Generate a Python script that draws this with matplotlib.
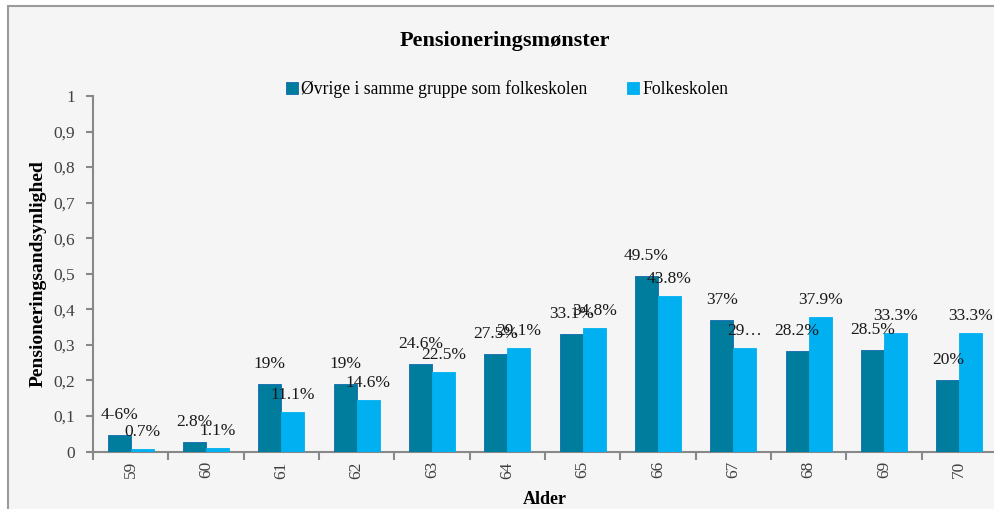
import matplotlib
matplotlib.use("Agg")
import matplotlib.pyplot as plt
import numpy as np
from matplotlib.patches import Rectangle

plt.rcParams['font.family'] = ['Liberation Serif', 'DejaVu Serif']

ages = ['59', '60', '61', '62', '63', '64', '65', '66', '67', '68', '69', '70']
ovrige = [0.046, 0.028, 0.19, 0.19, 0.246, 0.275, 0.331, 0.495, 0.37, 0.282, 0.285, 0.20]
folkeskolen = [0.007, 0.011, 0.111, 0.146, 0.225, 0.291, 0.348, 0.438, 0.29, 0.379, 0.333, 0.333]
ovrige_labels = ['4-6%', '2.8%', '19%', '19%', '24.6%', '27.5%', '33.1%', '49.5%', '37%', '28.2%', '28.5%', '20%']
folke_labels = ['0.7%', '1.1%', '11.1%', '14.6%', '22.5%', '29.1%', '34.8%', '43.8%', '29…', '37.9%', '33.3%', '33.3%']
yticks = [0, 0.1, 0.2, 0.3, 0.4, 0.5, 0.6, 0.7, 0.8, 0.9, 1]

dark = '#007C9C'
light = '#00B0F0'
grey = '#888888'

fig = plt.figure(figsize=(9.94, 5.09), dpi=100, facecolor='white')
# chart area frame
fig.patches.append(Rectangle((8/994, -0.1), 1.1, 1 - 6/509 + 0.1, transform=fig.transFigure,
                             facecolor='#f5f5f5', edgecolor='#9a9a9a', linewidth=1.5, zorder=-10))

ax = fig.add_axes([93/994, 1 - 451.5/509, (997 - 93)/994, (451.5 - 96)/509])
ax.set_facecolor('none')
ax.set_zorder(2)

x = np.arange(len(ages))
w = 0.305
b1 = ax.bar(x - w/2, ovrige, w, color=dark, edgecolor='#1267b0', linewidth=0.6,
            label='Øvrige i samme gruppe som folkeskolen', zorder=3)
b2 = ax.bar(x + w/2, folkeskolen, w, color=light, edgecolor=light, linewidth=0.6,
            label='Folkeskolen', zorder=3)

# dark labels sit a little higher than light ones, as in the source chart
for i in range(len(ages)):
    ax.annotate(ovrige_labels[i], (x[i] - w/2, ovrige[i]), xytext=(0, 12), textcoords='offset pixels',
                ha='center', va='bottom', fontsize=12.5, color='#1a1a1a', zorder=4)
    ax.annotate(folke_labels[i], (x[i] + w/2, folkeskolen[i]), xytext=(0, 9), textcoords='offset pixels',
                ha='center', va='bottom', fontsize=12.5, color='#1a1a1a', zorder=4)

ax.set_xlim(-0.5, len(ages) - 0.5)
ax.set_ylim(0, 1)
ax.set_yticks(yticks)
ax.set_yticklabels([('%g' % v).replace('.', ',') for v in yticks], fontsize=12.5, color='#404040')
ax.set_xticks(x)
ax.set_xticklabels(ages, rotation=90, fontsize=12.5, color='#404040')
ax.set_xticks(np.arange(len(ages) + 1) - 0.5, minor=True)
ax.tick_params(axis='x', which='major', length=0, pad=7)
ax.tick_params(axis='x', which='minor', length=6, width=1.5, color=grey, direction='out')
ax.tick_params(axis='y', length=5, width=1.5, color=grey, direction='out', pad=8)

for s in ['top', 'right']:
    ax.spines[s].set_visible(False)
for s in ['left', 'bottom']:
    ax.spines[s].set_color(grey)
    ax.spines[s].set_linewidth(1.5)

ax.set_ylabel('Pensioneringsandsynlighed', fontsize=14, fontweight='bold', labelpad=5)
ax.set_xlabel('Alder', fontsize=13, fontweight='bold', labelpad=9)

fig.text(505/994, 1 - 41/509, 'Pensioneringsmønster', ha='center', va='center',
         fontsize=16, fontweight='bold')
fig.legend(handles=[b1, b2], loc='center', bbox_to_anchor=(507/994, 1 - 89/509), ncol=2,
           frameon=False, fontsize=12.7, handlelength=0.7, handleheight=0.7, handletextpad=0.2,
           columnspacing=2.2)

fig.savefig('out.png', dpi=100, facecolor='white')
